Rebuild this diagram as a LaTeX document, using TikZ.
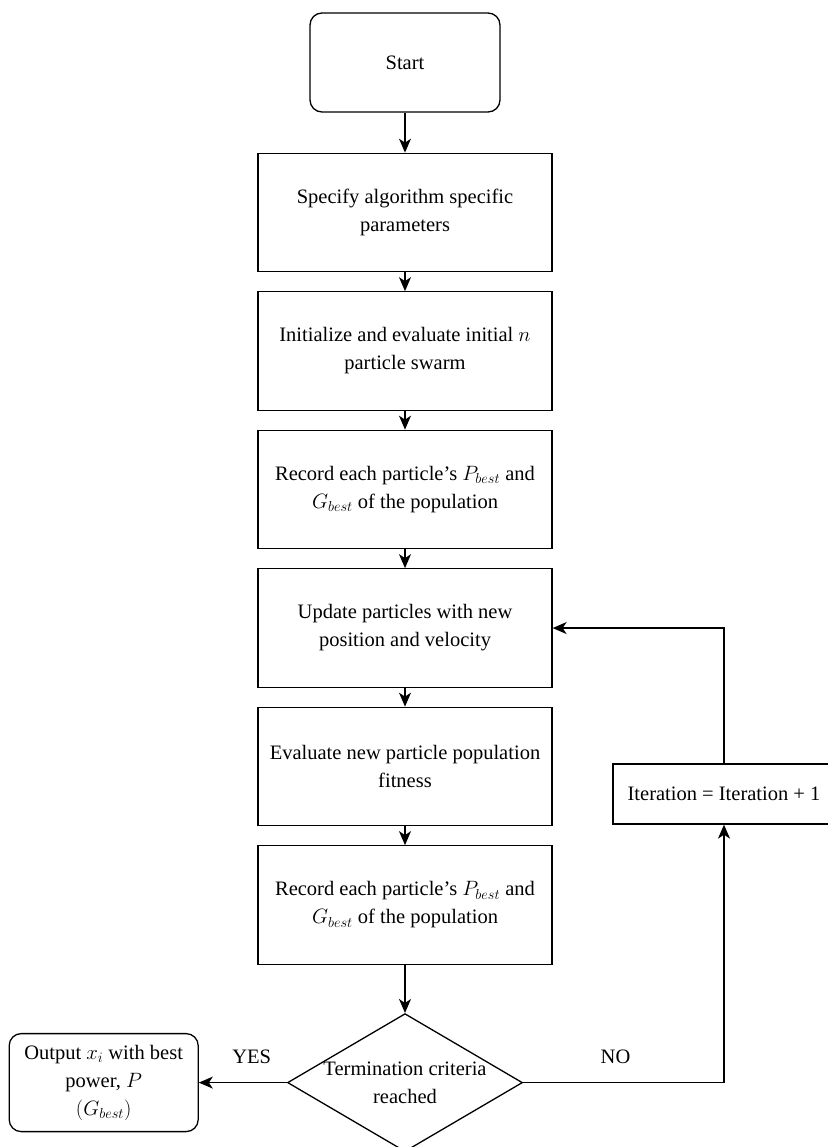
\documentclass[tikz,border=0pt]{standalone}
\usepackage{amsmath}
\usepackage{amssymb}
\usepackage{fontspec}
\setmainfont{Liberation Serif}
\usepackage{tikz}
\usetikzlibrary{positioning}
\usetikzlibrary{shapes.geometric}
\usetikzlibrary{arrows.meta}

\begin{document}
\begin{tikzpicture}
		[x=1pt, y=1pt, line width=1.3pt, >={Stealth[length=14pt, width=12pt, inset=4pt]},
		 font=\fontsize{20.5pt}{28pt}\selectfont,
		 process/.style={rectangle, draw=black, align=center, minimum width=294pt, minimum height=118.5pt, node distance=18.7pt},
		 terminal/.style={rectangle, rounded corners=12pt, draw=black, align=center, inner sep=0pt},
		 decision/.style={diamond, draw=black, align=center, aspect=1.7, inner sep=-3pt, minimum width=235pt, minimum height=138pt}]
		\useasboundingbox (0,0) rectangle (827,-1147);

		\node[terminal, minimum width=190pt, minimum height=99pt] (start) at (405,-62.5) {Start};
		\node[process, below=40pt of start] (spec) {Specify algorithm specific\\parameters};
		\node[process, below=of spec] (init) {Initialize and evaluate initial $n$\\particle swarm};
		\node[process, below=of init] (rec) {Record each particle's $P_{best}$ and\\$G_{best}$ of the population};
		\node[process, below=of rec] (upd) {Update particles with new\\position and velocity};
		\node[process, below=of upd] (eval) {Evaluate new particle population\\fitness};
		\node[process, below=of eval] (rec2) {Record each particle's $P_{best}$ and\\$G_{best}$ of the population};
		\node[decision, below=48pt of rec2] (term) {Termination criteria\\reached};
		\node[terminal, minimum width=189pt, minimum height=98pt, left=88pt of term] (out) {Output $x_i$ with best\\power, $P$\\$(G_{best})$};
		\node[rectangle, draw=black, minimum width=222pt, minimum height=60pt] (iter) at (724,-794) {Iteration = Iteration + 1};

		\draw[->] (start) to (spec);
		\draw[->] (spec) to (init);
		\draw[->] (init) to (rec);
		\draw[->] (rec) to (upd);
		\draw[->] (upd) to (eval);
		\draw[->] (eval) to (rec2);
		\draw[->] (rec2) to (term);
		\draw[->] (term) to node[pos=0.4, above=15pt] {YES} (out);
		\draw[->] (term.east) -| node[pos=0.23, above=15pt] {NO} (iter.south);
		\draw[->] (iter.north) |- (upd.east);
	\end{tikzpicture}
\end{document}
